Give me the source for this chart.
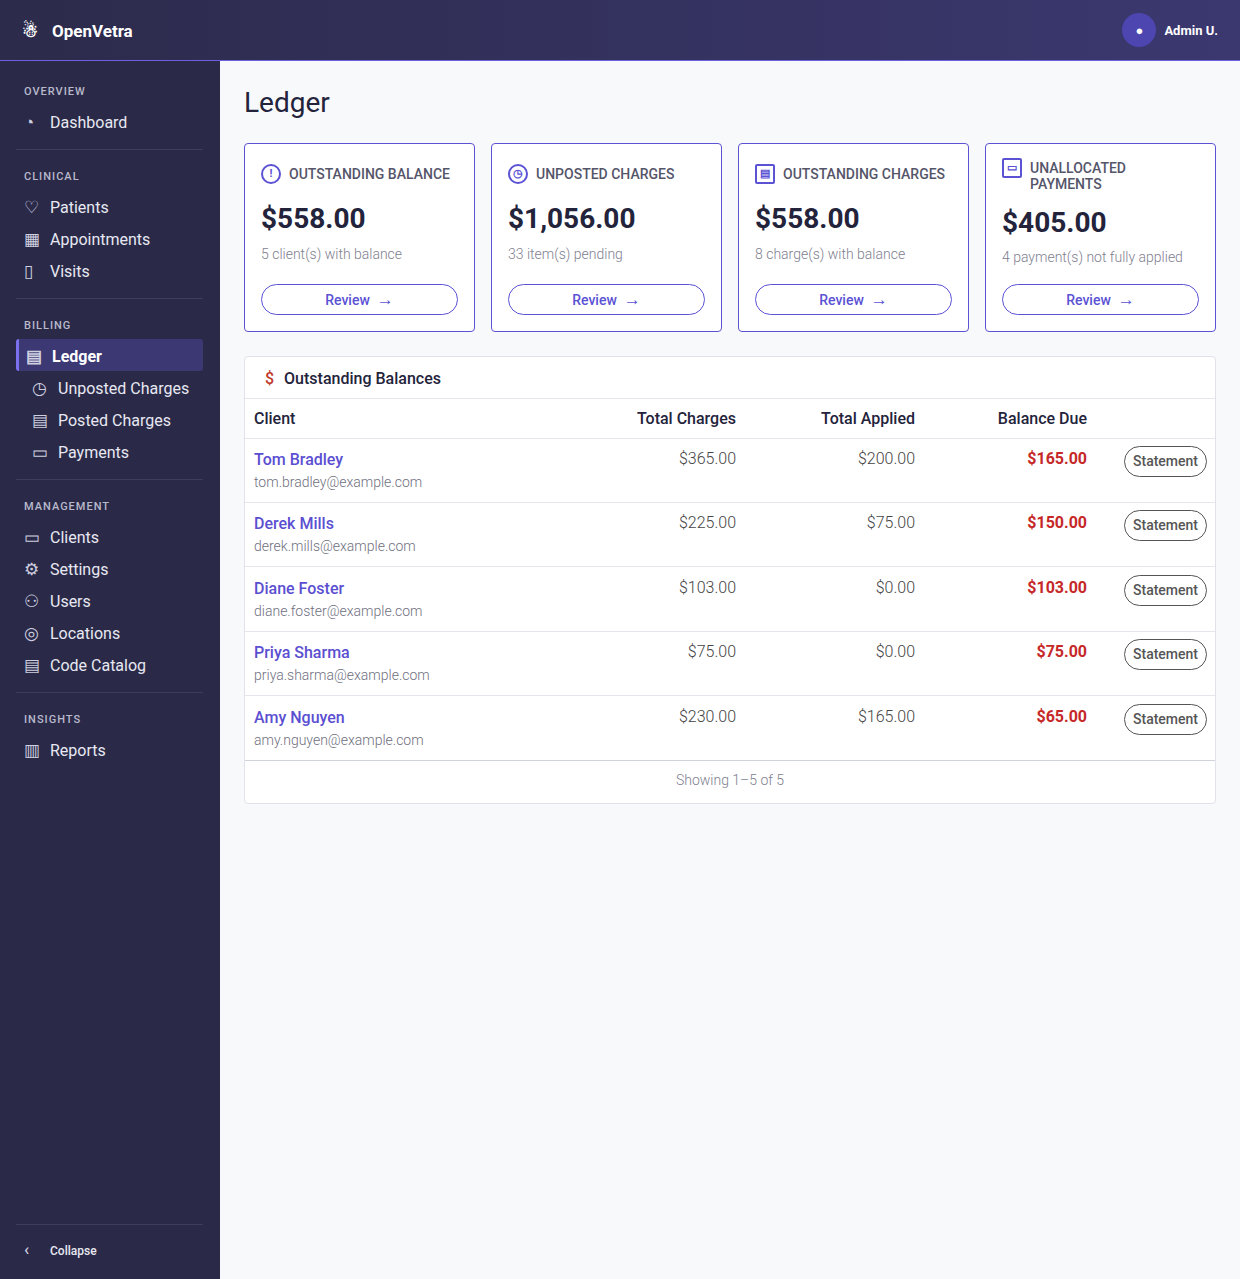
<!DOCTYPE html>
<html><head><meta charset="utf-8">
<script src="https://cdn.jsdelivr.net/npm/chart.js@4"></script>
<style>
*{box-sizing:border-box;margin:0;padding:0}
body{width:1240px;height:1279px;font-family:Roboto,sans-serif;background:#f8f9fb;color:#23233b;position:relative;overflow:hidden}
.top{position:absolute;left:0;top:0;width:1240px;height:61px;background:linear-gradient(90deg,#2c2b4b,#3b3870);border-bottom:1px solid #6c5fe0;color:#fff}
.logo{position:absolute;left:22px;top:20px;font-size:17px;font-weight:700}
.logo span{display:inline-block;width:18px;margin-right:12px;font-size:18px}
.user{position:absolute;right:22px;top:13px;display:flex;align-items:center;font-size:13px;font-weight:700}
.av{width:34px;height:34px;border-radius:50%;background:#4e46b0;margin-right:8px;display:flex;align-items:center;justify-content:center;font-size:13px;color:#fff}
.side{position:absolute;left:0;top:61px;width:220px;height:1218px;background:#2a2a48;color:#e4e4ee}
.sec{position:absolute;left:24px;font-size:11px;letter-spacing:1px;font-weight:500;color:#b9b9cc}
.it{position:absolute;left:24px;font-size:16px;color:#e8e8f2}
.it i{display:inline-block;width:18px;margin-right:8px;font-style:normal;font-size:17px;color:#cfcfe0}
.sub{left:32px}
.hr{position:absolute;left:16px;width:187px;height:1px;background:#3c3c5c}
.act{position:absolute;left:16px;top:278px;width:187px;height:32px;background:#3b3873;border-left:3px solid #7b70f0;border-radius:3px}
h1{position:absolute;left:244px;top:86px;font-size:28px;font-weight:400}
.card{position:absolute;top:143px;width:231px;height:189px;background:#fff;border:1px solid #5b52d4;border-radius:4px}
.ct{position:absolute;left:16px;top:22px;font-size:14px;color:#55556a;font-weight:500;display:flex;align-items:flex-start}
.ct b{display:inline-block;width:20px;height:20px;border:2px solid #5b52d4;border-radius:50%;margin-right:8px;font-size:11px;color:#5b52d4;text-align:center;line-height:16px;flex:none;margin-top:-2px}
.cv{position:absolute;left:16px;font-size:28px;font-weight:700}
.cs{position:absolute;left:16px;font-size:14px;color:#808090;font-weight:300}
.btn{position:absolute;left:16px;top:140px;width:197px;height:31px;border:1px solid #5b52d4;border-radius:16px;text-align:center;line-height:29px;color:#5b52d4;font-weight:500;font-size:14px}
.btn span{font-size:17px;font-weight:400}
.panel{position:absolute;left:244px;top:356px;width:972px;height:448px;background:#fff;border:1px solid #e2e3ea;border-radius:4px}
.ph{position:absolute;left:20px;top:12px;font-size:16px;font-weight:500}
.ph span{color:#c0392b;margin-right:10px}
.line{position:absolute;left:0;width:970px;height:1px;background:#e5e6ec}
.th{position:absolute;top:52px;font-size:16px;font-weight:500}
.cell{position:absolute;font-size:16px;font-weight:300;color:#444}
.nm{position:absolute;left:9px;font-size:16px;color:#5b4fd1;font-weight:500}
.em{position:absolute;left:9px;font-size:14px;color:#707080;font-weight:300}
.bal{position:absolute;font-size:16px;font-weight:700;color:#c62828}
.st{position:absolute;left:879px;width:83px;height:31px;border:1px solid #555;border-radius:16px;text-align:center;line-height:29px;font-size:14px;font-weight:500;color:#555}
.foot{position:absolute;top:415px;width:970px;text-align:center;font-size:14px;color:#808090;font-weight:300}
</style></head><body>
<div class="top"><div class="logo"><span>☃</span>OpenVetra</div><div class="user"><div class="av">●</div>Admin U.</div></div>
<div class="side" id="side"></div>
<h1>Ledger</h1>
<div id="cards"></div>
<div class="panel" id="panel"></div>
<script>
const cardTitles=["OUTSTANDING BALANCE","UNPOSTED CHARGES","OUTSTANDING CHARGES","UNALLOCATED PAYMENTS"];
const cardValues=["$558.00","$1,056.00","$558.00","$405.00"];
const cardSubs=["5 client(s) with balance","33 item(s) pending","8 charge(s) with balance","4 payment(s) not fully applied"];
const clients=["Tom Bradley","Derek Mills","Diane Foster","Priya Sharma","Amy Nguyen"];
const emails=["tom.bradley@example.com","derek.mills@example.com","diane.foster@example.com","priya.sharma@example.com","amy.nguyen@example.com"];
const totalCharges=[365,225,103,75,230];
const totalApplied=[200,75,0,0,165];
const balanceDue=[165,150,103,75,65];
const navSections=[["OVERVIEW",30,[["Dashboard",60,"◔"]]],["CLINICAL",115,[["Patients",145,"♡"],["Appointments",177,"▦"],["Visits",209,"▯"]]],["BILLING",264,[["Ledger",294,"▤"],["Unposted Charges",326,"◷"],["Posted Charges",358,"▤"],["Payments",390,"▭"]]],["MANAGEMENT",445,[["Clients",475,"▭"],["Settings",507,"⚙"],["Users",539,"⚇"],["Locations",571,"◎"],["Code Catalog",603,"▤"]]],["INSIGHTS",658,[["Reports",688,"▥"]]]];
const fmt=v=>"$"+v.toFixed(2);
let s='<div class="act"></div>';
[88,237,418,631].forEach(y=>s+=`<div class="hr" style="top:${y}px"></div>`);
navSections.forEach(([t,y,items])=>{s+=`<div class="sec" style="top:${y-6}px">${t}</div>`;
items.forEach(([n,iy,ic])=>{const sub=["Unposted Charges","Posted Charges","Payments","Ledger"].includes(n);const bold=n=="Ledger"?"font-weight:700;color:#fff;":"";
s+=`<div class="it${sub?' sub':''}" style="top:${iy-9}px;${n=='Ledger'?'left:26px;':''}${bold}"><i>${ic}</i>${n}</div>`})});
s+='<div class="hr" style="top:1163px"></div><div class="it" style="top:1178px;font-size:12px;font-weight:500"><i>‹</i>Collapse</div>';
document.getElementById('side').innerHTML=s;
const icons=["!","◷","▤","▭"];let c="";
cardTitles.forEach((t,i)=>{const two=i==3;
c+=`<div class="card" style="left:${244+i*247}px"><div class="ct" style="${two?'top:16px':''}"><b${i>1?' style="border-radius:2px"':''}>${icons[i]}</b><span style="${two?'width:120px;line-height:16px':''}">${t}</span></div>
<div class="cv" style="top:${two?62:58}px">${cardValues[i]}</div><div class="cs" style="top:${two?105:102}px">${cardSubs[i]}</div><div class="btn">Review &nbsp;<span>→</span></div></div>`});
document.getElementById('cards').innerHTML=c;
let p='<div class="ph"><span>$</span>Outstanding Balances</div><div class="line" style="top:41px"></div>';
p+='<div class="th" style="left:9px">Client</div><div class="th" style="right:479px">Total Charges</div><div class="th" style="right:300px">Total Applied</div><div class="th" style="right:128px">Balance Due</div><div class="line" style="top:81px"></div>';
clients.forEach((n,i)=>{const y=81+i*64.4;
p+=`<div class="nm" style="top:${y+12}px">${n}</div><div class="em" style="top:${y+36}px">${emails[i]}</div>
<div class="cell" style="top:${y+11}px;right:479px">${fmt(totalCharges[i])}</div><div class="cell" style="top:${y+11}px;right:300px">${fmt(totalApplied[i])}</div>
<div class="bal" style="top:${y+11}px;right:128px">${fmt(balanceDue[i])}</div><div class="st" style="top:${y+8}px">Statement</div><div class="line" style="top:${y+64}px;${i==4?'background:#d0d2dc':''}"></div>`});
p+='<div class="foot">Showing 1–5 of 5</div>';
document.getElementById('panel').innerHTML=p;
</script>
</body></html>
